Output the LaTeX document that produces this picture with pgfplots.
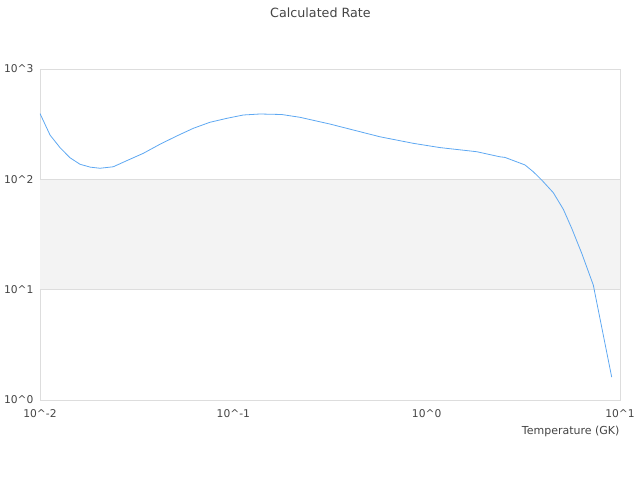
\documentclass[border=0pt]{standalone}
\usepackage{pgfplots}
\pgfplotsset{compat=1.18}
\usepackage{fontspec}
\setmainfont{DejaVu Sans}
\definecolor{txt}{HTML}{444444}
\definecolor{gridc}{HTML}{DDDDDD}
\definecolor{band}{HTML}{F3F3F3}
\definecolor{line}{HTML}{5EA8F2}
\begin{document}
\begin{tikzpicture}[x=1pt,y=1pt]
\path[use as bounding box] (0,0) rectangle (640,480);
\node[text=txt,font=\fontsize{12.7}{15}\selectfont] at (320.5,467) {Calculated Rate};
\begin{axis}[
  at={(40pt,80pt)}, anchor=south west,
  scale only axis, width=580pt, height=331pt,
  xmode=log, ymode=log,
  xmin=0.01, xmax=10, ymin=1, ymax=1000,
  xtick={0.01,0.1,1,10},
  xticklabels={10\textasciicircum-2,10\textasciicircum-1,10\textasciicircum0,10\textasciicircum1},
  ytick={1,10,100,1000},
  yticklabels={10\textasciicircum0,10\textasciicircum1,10\textasciicircum2,10\textasciicircum3},
  minor tick num=0, minor xtick={}, minor ytick={},
  major tick length=0pt, minor tick length=0pt,
  axis line style={draw=gridc},
  ymajorgrids, major grid style={draw=gridc, line width=0.8pt},
  tick label style={text=txt, font=\fontsize{10.7}{13}\selectfont},
  xticklabel style={yshift=-6pt},
  yticklabel style={xshift=-3pt},
  xlabel={Temperature (GK)},
  xlabel style={at={(axis description cs:1,0)}, anchor=east, yshift=-31pt, xshift=3pt, text=txt, font=\fontsize{11}{13}\selectfont},
  clip=true,
]
\fill[band] (axis cs:0.01,10) rectangle (axis cs:10,100);
\draw[gridc, line width=0.8pt] (axis cs:0.01,10) -- (axis cs:10,10);
\draw[gridc, line width=0.8pt] (axis cs:0.01,100) -- (axis cs:10,100);
\addplot[line, line width=0.8pt, mark=none] coordinates {
(0.0100,395)
(0.01127,252)
(0.01269,194)
(0.01429,157)
(0.0161,137)
(0.0182,129)
(0.02043,126)
(0.02393,130)
(0.02808,147.5)
(0.0342,172)
(0.04176,208)
(0.05095,247)
(0.06209,290)
(0.0757,329)
(0.0924,357)
(0.1126,383)
(0.1374,391)
(0.1779,387)
(0.2212,365)
(0.3162,317)
(0.3858,290)
(0.5736,243)
(0.8531,212)
(1.172,194)
(1.815,178)
(2.395,160)
(2.542,158)
(3.226,135)
(3.563,117)
(3.936,98.6)
(4.519,75.7)
(5.093,53.5)
(5.627,36)
(6.339,21.4)
(7.278,11.0)
(9.06,1.61)
};
\end{axis}
\end{tikzpicture}
\end{document}
